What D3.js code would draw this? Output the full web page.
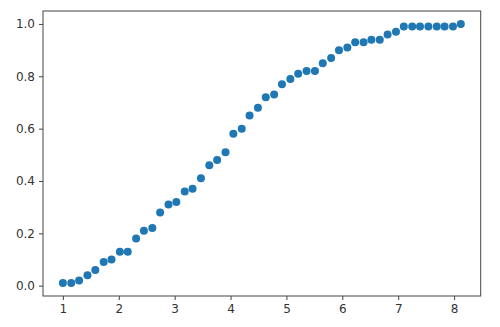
<!DOCTYPE html>
<html>
<head>
<meta charset="utf-8">
<script src="https://cdn.jsdelivr.net/npm/d3@7"></script>
<style>
html,body{margin:0;padding:0;background:#fff;}
svg{display:block;}
</style>
</head>
<body>
<svg id="chart" width="500" height="327"></svg>
<script>
const xValues = [1.00,1.15,1.29,1.44,1.58,1.73,1.87,2.02,2.16,2.31,2.45,2.60,2.74,2.89,3.03,3.18,3.32,3.47,3.62,3.76,3.91,4.05,4.20,4.34,4.49,4.63,4.78,4.92,5.07,5.21,5.36,5.51,5.65,5.80,5.94,6.09,6.23,6.38,6.52,6.67,6.81,6.96,7.10,7.25,7.39,7.54,7.69,7.83,7.98,8.12];
const yValues = [0.01,0.01,0.02,0.04,0.06,0.09,0.10,0.13,0.13,0.18,0.21,0.22,0.28,0.31,0.32,0.36,0.37,0.41,0.46,0.48,0.51,0.58,0.60,0.65,0.68,0.72,0.73,0.77,0.79,0.81,0.82,0.82,0.85,0.87,0.90,0.91,0.93,0.93,0.94,0.94,0.96,0.97,0.99,0.99,0.99,0.99,0.99,0.99,0.99,1.00];
const xTicks = [1,2,3,4,5,6,7,8];
const yTicks = [0.0,0.2,0.4,0.6,0.8,1.0];

(function () {
const svg = d3.select("#chart");
const mLeft = 43, mRight = 480.7, mTop = 11, mBottom = 296;

const xMin = d3.min(xValues), xMax = d3.max(xValues);
const yMin = d3.min(yValues), yMax = d3.max(yValues);
const xPad = (xMax - xMin) * 0.05, yPad = (yMax - yMin) * 0.05;

const x = d3.scaleLinear().domain([xMin - xPad, xMax + xPad]).range([mLeft, mRight]);
const y = d3.scaleLinear().domain([yMin - yPad, yMax + yPad]).range([mBottom, mTop]);

const font = "'DejaVu Sans', sans-serif";

const xAxis = svg.append("g")
  .attr("transform", `translate(0,${mBottom})`)
  .call(d3.axisBottom(x).tickValues(xTicks).tickFormat(d3.format("d")).tickSize(4).tickPadding(4));
const yAxis = svg.append("g")
  .attr("transform", `translate(${mLeft},0)`)
  .call(d3.axisLeft(y).tickValues(yTicks).tickFormat(d3.format(".1f")).tickSize(4).tickPadding(4));

[xAxis, yAxis].forEach(g => {
  g.select(".domain").remove();
  g.selectAll(".tick line").attr("stroke", "#444").attr("stroke-width", 1);
  g.selectAll(".tick text").attr("fill", "#333").style("font-family", font).style("font-size", "12px");
});

svg.append("rect")
  .attr("x", mLeft).attr("y", mTop)
  .attr("width", mRight - mLeft).attr("height", mBottom - mTop)
  .attr("fill", "none").attr("stroke", "#444").attr("stroke-width", 1);

svg.append("g").selectAll("circle")
  .data(xValues.map((v, i) => [v, yValues[i]]))
  .join("circle")
  .attr("cx", d => x(d[0]))
  .attr("cy", d => y(d[1]))
  .attr("r", 4)
  .attr("fill", "#1f77b4");
})();
</script>
</body>
</html>
